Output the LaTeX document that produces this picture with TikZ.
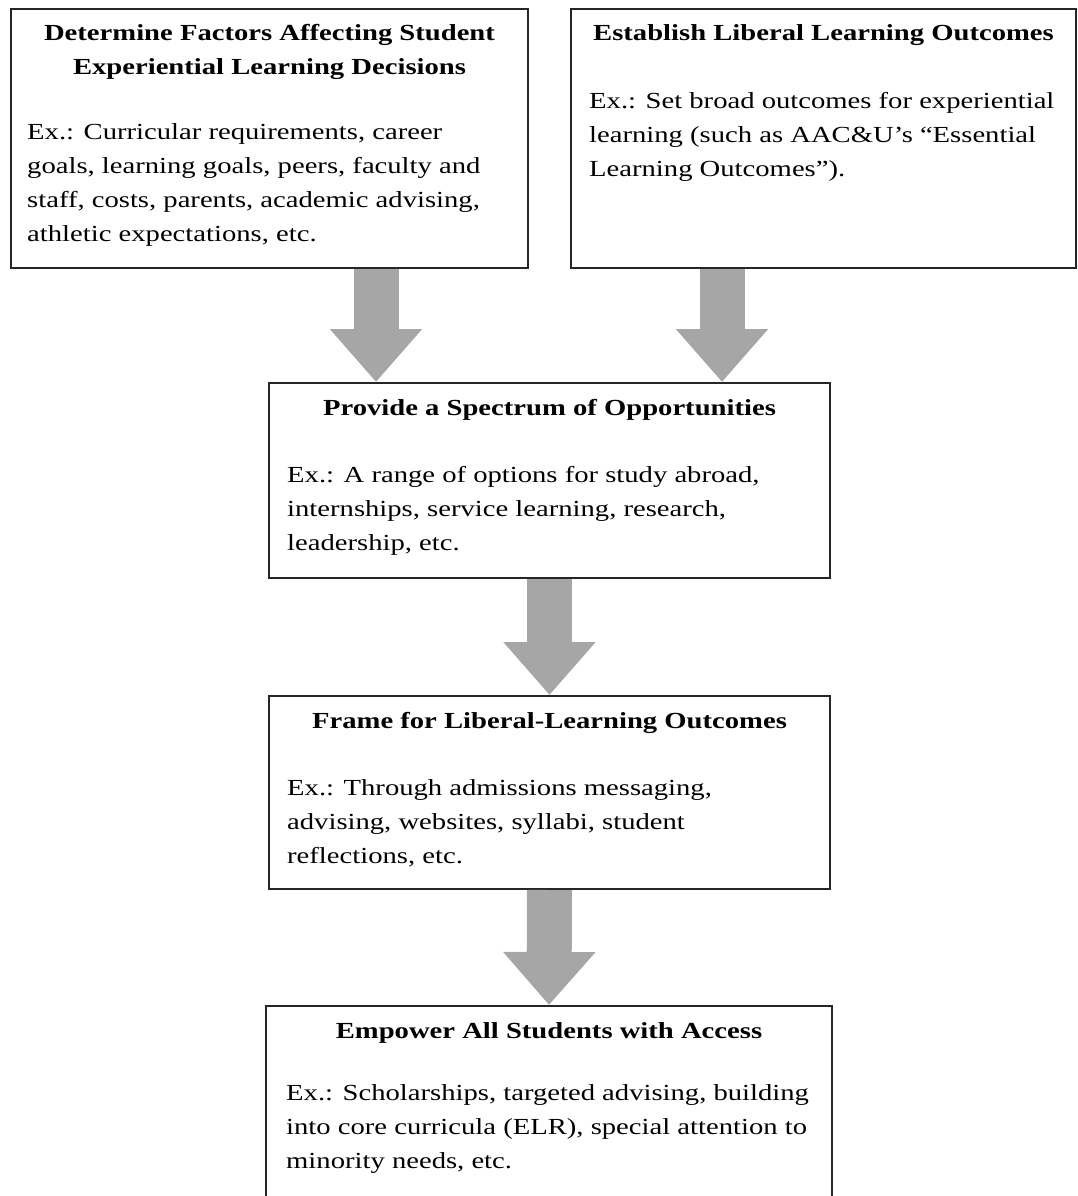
\documentclass[tikz,border=0pt]{standalone}
\usepackage{fontspec}
\setmainfont{Liberation Serif}[FakeStretch=1.245]
\usetikzlibrary{arrows.meta}

\newcommand{\diagfont}{\fontsize{23pt}{34pt}\selectfont}

\begin{document}
\begin{tikzpicture}
   \tikzset{framebox/.style={draw=black!85, line width=2pt, fill=white, anchor=north west, inner sep=0pt}}
   % base of a multi-line text is its last line
   \tikzset{headtext/.style={font=\diagfont\bfseries, align=center, inner sep=0pt, anchor=base}}
   \tikzset{bodytext/.style={font=\diagfont, align=left, inner sep=0pt, anchor=base west}}
   \tikzset{bigarrow/.style={draw=gray!70, line width=45pt, -{Triangle[length=53pt,width=89pt]}}}
   \useasboundingbox (0,0) rectangle (1077pt,-1196pt);
   % boxes
   \node[framebox, minimum width=517pt, minimum height=259pt] (factors) at (10pt,-8pt) {};
   \node[framebox, minimum width=505pt, minimum height=259pt] (outcomes) at (570pt,-8pt) {};
   \node[framebox, minimum width=561pt, minimum height=195pt] (spectrum) at (268pt,-382pt) {};
   \node[framebox, minimum width=561pt, minimum height=193pt] (frame) at (268pt,-695pt) {};
   \node[framebox, minimum width=566pt, minimum height=230pt] (empower) at (265pt,-1005pt) {};
   % texts
   \node[headtext] (factorsHead) at ([yshift=-67pt]factors.north)
      {Determine Factors Affecting Student\\Experiential Learning Decisions};
   \node[bodytext] (factorsBody) at ([xshift=17pt,yshift=-233pt]factors.north west)
      {Ex.: Curricular requirements, career\\goals, learning goals, peers, faculty and\\staff, costs, parents, academic advising,\\athletic expectations, etc.};
   \node[headtext] (outcomesHead) at ([yshift=-33pt]outcomes.north)
      {Establish Liberal Learning Outcomes};
   \node[bodytext] (outcomesBody) at ([xshift=19pt,yshift=-168pt]outcomes.north west)
      {Ex.: Set broad outcomes for experiential\\learning (such as AAC\&U’s “Essential\\Learning Outcomes”).};
   \node[headtext] (spectrumHead) at ([yshift=-33pt]spectrum.north)
      {Provide a Spectrum of Opportunities};
   \node[bodytext] (spectrumBody) at ([xshift=19pt,yshift=-168pt]spectrum.north west)
      {Ex.: A range of options for study abroad,\\internships, service learning, research,\\leadership, etc.};
   \node[headtext] (frameHead) at ([yshift=-33pt]frame.north)
      {Frame for Liberal-Learning Outcomes};
   \node[bodytext] (frameBody) at ([xshift=19pt,yshift=-168pt]frame.north west)
      {Ex.: Through admissions messaging,\\advising, websites, syllabi, student\\reflections, etc.};
   \node[headtext] (empowerHead) at ([yshift=-33pt]empower.north)
      {Empower All Students with Access};
   \node[bodytext] (empowerBody) at ([xshift=21pt,yshift=-163pt]empower.north west)
      {Ex.: Scholarships, targeted advising, building\\into core curricula (ELR), special attention to\\minority needs, etc.};
   % arrows
   \coordinate (inLeft) at ([xshift=108pt]spectrum.north west);
   \coordinate (inRight) at ([xshift=-109pt]spectrum.north east);
   \draw[bigarrow] (factors.south -| inLeft) -- (inLeft);
   \draw[bigarrow] (outcomes.south -| inRight) -- (inRight);
   \draw[bigarrow] (spectrum.south) -- (frame.north);
   \draw[bigarrow] (frame.south) -- (empower.north);
\end{tikzpicture}
\end{document}
